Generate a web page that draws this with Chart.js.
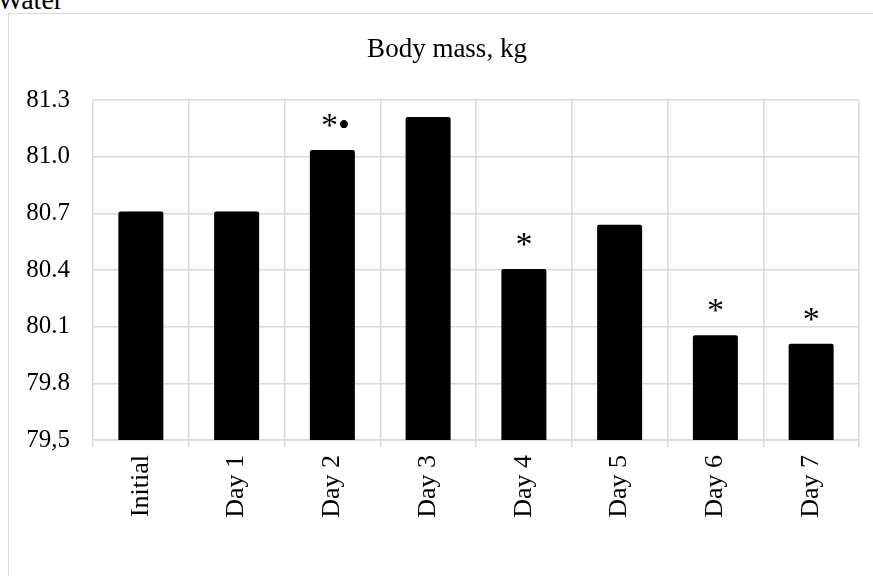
<!DOCTYPE html>
<html>
<head>
<meta charset="utf-8">
<script src="https://cdn.jsdelivr.net/npm/chart.js@4.4.0/dist/chart.umd.min.js"></script>
<style>
  html, body { margin: 0; padding: 0; background: #fff; }
  body { width: 873px; height: 576px; overflow: hidden; position: relative; }
  #water { position: absolute; left: -3px; top: -14px; font: 28px "Liberation Serif", serif; line-height: 1; color: #000; }
  #box { position: absolute; left: 8px; top: 13px; width: 1000px; height: 700px; border: 1.5px solid #d9d9d9; }
  #wrap { position: absolute; left: 0; top: 0; width: 894px; height: 576px; }
</style>
</head>
<body>
<div id="water">Water</div>
<div id="box"></div>
<div id="wrap"><canvas id="chart" width="894" height="576"></canvas></div>
<script>
const categories = ['Initial', 'Day 1', 'Day 2', 'Day 3', 'Day 4', 'Day 5', 'Day 6', 'Day 7'];
const bodyMass = [80.71, 80.71, 81.035, 81.21, 80.405, 80.64, 80.055, 80.01];
const markers = ['', '', '*\u2022', '', '*', '', '*', '*'];
const yTickLabels = ['79,5', '79.8', '80.1', '80.4', '80.7', '81.0', '81.3'];
const chartTitle = 'Body mass, kg';

const serif = '"Liberation Serif", "Times New Roman", serif';
const gridColor = '#d9d9d9';

// title sits centred on the whole chart box, not on the plot, so draw it by hand
const titlePlugin = {
  id: 'boxTitle',
  afterDraw(chart) {
    const ctx = chart.ctx;
    ctx.save();
    ctx.font = '27px ' + serif;
    ctx.fillStyle = '#000';
    ctx.textAlign = 'center';
    ctx.textBaseline = 'middle';
    ctx.fillText(chartTitle, (chart.chartArea.left + chart.chartArea.right) / 2 - 29, 50);
    ctx.restore();
  }
};

// significance marks above the bars
const markerPlugin = {
  id: 'markers',
  afterDatasetsDraw(chart) {
    const ctx = chart.ctx;
    const meta = chart.getDatasetMeta(0);
    ctx.save();
    ctx.font = '34px ' + serif;
    ctx.fillStyle = '#000';
    ctx.textAlign = 'center';
    ctx.textBaseline = 'alphabetic';
    meta.data.forEach((bar, i) => {
      if (markers[i]) ctx.fillText(markers[i], bar.x + (markers[i].length > 1 ? 3 : 0), bar.y - 14);
    });
    ctx.restore();
  }
};

new Chart(document.getElementById('chart'), {
  type: 'bar',
  data: {
    labels: categories,
    datasets: [{
      data: bodyMass,
      backgroundColor: '#000',
      borderRadius: 2,
      barPercentage: 0.47,
      categoryPercentage: 1
    }]
  },
  options: {
    responsive: false,
    animation: false,
    layout: { padding: { left: 0, right: 35, top: 100, bottom: 0 } },
    plugins: {
      legend: { display: false },
      tooltip: { enabled: false },
      title: { display: false }
    },
    scales: {
      x: {
        afterFit: (scale) => { scale.height = 136; },
        grid: { color: gridColor, lineWidth: 1.5, tickLength: 7, offset: true },
        border: { color: gridColor, width: 1.5 },
        ticks: {
          color: '#000',
          font: { family: serif, size: 26 },
          minRotation: 90,
          maxRotation: 90,
          autoSkip: false,
          padding: 8
        }
      },
      y: {
        min: 79.5,
        max: 81.3,
        afterFit: (scale) => { scale.width = 93; },
        grid: { color: gridColor, lineWidth: 1.5, drawTicks: false },
        border: { display: false },
        ticks: {
          stepSize: 0.3,
          color: '#000',
          padding: 23,
          font: { family: serif, size: 25 },
          callback: (value, index) => yTickLabels[index]
        }
      }
    }
  },
  plugins: [markerPlugin, titlePlugin]
});
</script>
</body>
</html>
